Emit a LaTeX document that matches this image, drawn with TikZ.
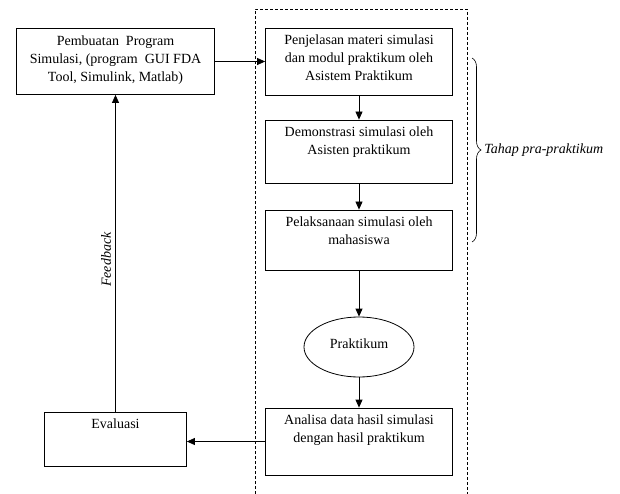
\documentclass[tikz,border=0pt]{standalone}
\usepackage{fontspec}
\setmainfont{Liberation Serif}
\usetikzlibrary{arrows.meta,shapes.geometric,decorations.pathreplacing}

\tikzset{
    box/.style={draw, line width=0.8pt, rectangle, inner sep=0pt},
    boxtext/.style={anchor=north, align=center, font=\fontsize{14}{18}\selectfont, inner sep=0pt},
    arr/.style={line width=0.8pt, -{Triangle[length=8pt,width=7pt]}},
}

\begin{document}
\begin{tikzpicture}[x=1pt, y=-1pt]
        \useasboundingbox (0,0) rectangle (620,494);

        % dashed frame, open at the bottom
        \draw[line width=0.7pt, dash pattern=on 3pt off 2pt] (255,494) -- (255,9) -- (467,9) -- (467,494);

        \node[box, minimum width=198pt, minimum height=66pt] (pem) at (115.5,61.5) {};
        \node[box, minimum width=187pt, minimum height=67pt] (pen) at (359,61.5) {};
        \node[box, minimum width=187pt, minimum height=63pt] (dem) at (359,151.5) {};
        \node[box, minimum width=187pt, minimum height=60pt] (pel) at (359,240) {};
        \node[draw, line width=0.8pt, ellipse, minimum width=110pt, minimum height=60pt, inner sep=0pt,
              font=\fontsize{14}{18}\selectfont] (prak) at (359,347) {\raisebox{6pt}{Praktikum}};
        \node[box, minimum width=187pt, minimum height=67pt] (ana) at (359,441.5) {};
        \node[box, minimum width=142pt, minimum height=54pt] (eva) at (115.5,439) {};

        % texts, set from the top of each box
        \node[boxtext] (pemtxt) at ([yshift=-7pt]pem.north) {Pembuatan\ \ Program\\Simulasi, (program\ \ GUI FDA\\Tool, Simulink, Matlab)};
        \node[boxtext] (pentxt) at ([yshift=-7pt]pen.north) {Penjelasan\ materi\ simulasi\\dan modul praktikum\ oleh\\Asistem Praktikum};
        \node[boxtext] (demtxt) at ([yshift=-7pt]dem.north) {Demonstrasi\ simulasi oleh\\Asisten praktikum};
        \node[boxtext] (peltxt) at ([yshift=-7pt]pel.north) {Pelaksanaan\ simulasi oleh\\mahasiswa};
        \node[boxtext] (anatxt) at ([yshift=-7pt]ana.north) {Analisa data\ hasil simulasi\\dengan\ hasil praktikum};
        \node[boxtext] (evatxt) at ([yshift=-7pt]eva.north) {Evaluasi};

        \draw[arr] (pem) -- (pen);
        \draw[arr] (pen) -- (dem);
        \draw[arr] (dem) -- (pel);
        \draw[arr] (pel) -- (prak);
        \draw[arr] (prak) -- (ana);
        \draw[arr] (ana.west) -- (ana.west -| eva.east);
        \draw[arr] (eva) -- node[pos=0.48, rotate=90, anchor=south, inner sep=4pt,
              font=\fontsize{14}{18}\selectfont\itshape] (fb) {Feedback} (pem);

        % brace round the first three steps
        \coordinate (bt) at (472,58);
        \coordinate (bb) at (472,242);
        \draw[line width=0.6pt, decorate, decoration={brace, amplitude=9pt}] (bt) -- (bb)
              node[midway, anchor=west, xshift=10pt, inner sep=2pt, font=\fontsize{14}{18}\selectfont\itshape] (tahap) {Tahap pra-praktikum};

    \end{tikzpicture}
\end{document}
